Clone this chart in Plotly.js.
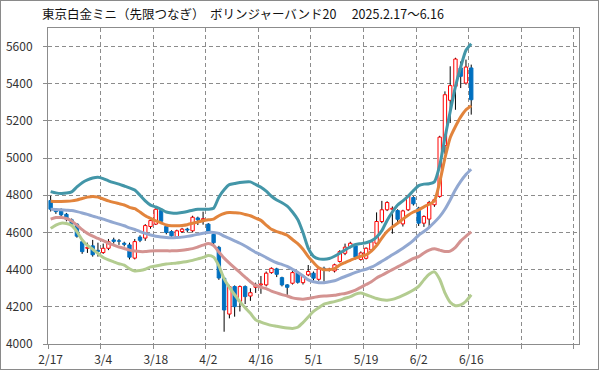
<!DOCTYPE html>
<html><head><meta charset="utf-8">
<script src="https://cdn.plot.ly/plotly-3.0.1.min.js"></script>
<style>
html,body{margin:0;padding:0;background:#fff;}
#wrap{position:relative;width:599px;height:370px;overflow:hidden;}
#chart{width:599px;height:370px;}
#frame{position:absolute;left:0;top:0;width:597px;height:368px;border:1px solid #8a8a8a;pointer-events:none;}
</style></head><body>
<div id="wrap"><div id="chart"></div><div id="frame"></div></div>
<script>
// trading days (category axis)
const dates = ['2/17','2/18','2/19','2/20','2/21','2/25','2/26','2/27','2/28','3/3',
 '3/4','3/5','3/6','3/7','3/10','3/11','3/12','3/13','3/14','3/17',
 '3/18','3/19','3/21','3/24','3/25','3/26','3/27','3/28','3/31','4/1',
 '4/2','4/3','4/4','4/7','4/8','4/9','4/10','4/11','4/14','4/15',
 '4/16','4/17','4/18','4/21','4/22','4/23','4/24','4/25','4/28','4/30',
 '5/1','5/2','5/7','5/8','5/9','5/12','5/13','5/14','5/15','5/16',
 '5/19','5/20','5/21','5/22','5/23','5/26','5/27','5/28','5/29','5/30',
 '6/2','6/3','6/4','6/5','6/6','6/9','6/10','6/11','6/12','6/13','6/16'];

const open = [4772,4722,4722,4698,4668,4645,4550,4515,4528,4504,
 4492,4515,4560,4555,4542,4533,4462,4575,4570,4632,
 4645,4718,4632,4605,4575,4605,4618,4609,4678,4668,
 4645,4590,4520,4354,4161,4309,4228,4309,4258,4305,
 4318,4318,4384,4404,4357,4318,4327,4384,4330,4372,
 4381,4348,4407,4400,4393,4444,4488,4524,4528,4455,
 4461,4506,4542,4659,4722,4725,4718,4646,4722,4788,
 4731,4650,4672,4749,4794,5067,5311,5386,5485,5404,5485];
const high = [4797,4730,4730,4705,4675,4650,4560,4545,4560,4545,
 4540,4565,4572,4565,4550,4545,4565,4585,4645,4672,
 4730,4725,4640,4612,4615,4625,4625,4690,4685,4712,
 4650,4595,4528,4360,4318,4315,4315,4315,4300,4330,
 4366,4390,4412,4410,4362,4322,4392,4390,4372,4425,
 4390,4410,4416,4410,4432,4505,4540,4550,4540,4498,
 4520,4560,4708,4770,4768,4740,4725,4722,4802,4795,
 4738,4692,4770,4782,5120,5359,5494,5540,5520,5530,5503];
const low = [4713,4700,4688,4660,4635,4572,4485,4490,4470,4470,
 4485,4505,4540,4533,4525,4455,4455,4548,4555,4620,
 4640,4650,4590,4570,4568,4598,4600,4600,4640,4642,
 4598,4538,4345,4066,4138,4147,4175,4215,4232,4275,
 4270,4310,4378,4360,4310,4264,4320,4325,4320,4365,
 4340,4340,4335,4390,4385,4438,4478,4515,4455,4448,
 4455,4498,4535,4650,4715,4593,4655,4632,4715,4745,
 4635,4630,4625,4738,4787,5023,5189,5260,5377,5395,5234];
const close = [4725,4712,4695,4672,4645,4580,4497,4520,4480,4498,
 4515,4550,4552,4553,4536,4467,4551,4558,4637,4664,
 4725,4660,4600,4582,4609,4618,4613,4682,4668,4674,
 4605,4545,4355,4183,4309,4201,4309,4255,4276,4318,
 4323,4381,4407,4375,4318,4305,4384,4332,4366,4390,
 4354,4404,4398,4403,4426,4497,4521,4542,4467,4490,
 4515,4550,4659,4722,4761,4730,4671,4716,4797,4754,
 4650,4686,4761,4776,5113,5341,5390,5533,5440,5490,5314];

// Bollinger band lines
const bandUpper2 = [4820,4813,4810,4812,4818,4845,4868,4883,4893,4897,
 4890,4878,4868,4860,4850,4840,4828,4800,4770,4747,
 4737,4725,4710,4705,4704,4708,4713,4720,4725,4725,
 4725,4730,4790,4830,4857,4863,4869,4872,4872,4858,
 4843,4822,4795,4775,4760,4742,4710,4670,4600,4515,
 4472,4458,4456,4460,4472,4488,4506,4522,4535,4540,
 4545,4555,4575,4610,4665,4710,4748,4770,4795,4825,
 4852,4860,4862,4872,4960,5110,5250,5385,5490,5580,5615];
const bandUpper1 = [4768,4767,4767,4768,4770,4775,4783,4790,4794,4790,
 4780,4770,4762,4755,4748,4735,4728,4710,4690,4676,
 4663,4652,4640,4636,4636,4638,4642,4650,4656,4663,
 4668,4672,4690,4702,4707,4706,4704,4697,4690,4677,
 4665,4640,4617,4605,4596,4585,4562,4540,4510,4470,
 4438,4410,4400,4400,4405,4425,4438,4450,4462,4472,
 4480,4500,4530,4570,4605,4630,4650,4672,4693,4710,
 4722,4738,4752,4770,4870,5000,5110,5170,5222,5260,5282];
const bandMid = [4725,4724,4722,4720,4718,4712,4705,4697,4688,4680,
 4672,4662,4653,4645,4636,4625,4616,4605,4595,4586,
 4580,4576,4573,4572,4573,4575,4579,4584,4590,4596,
 4600,4600,4595,4580,4568,4555,4542,4527,4510,4493,
 4480,4465,4450,4437,4428,4418,4402,4386,4366,4345,
 4335,4330,4330,4335,4340,4352,4363,4374,4385,4395,
 4402,4413,4428,4445,4462,4480,4497,4515,4535,4558,
 4585,4605,4628,4655,4685,4725,4775,4830,4875,4912,4940];
const bandLower1 = [4672,4680,4680,4675,4662,4640,4615,4595,4580,4568,
 4556,4542,4532,4522,4514,4505,4500,4497,4497,4500,
 4501,4501,4501,4501,4502,4504,4508,4513,4522,4532,
 4540,4530,4495,4462,4435,4410,4385,4360,4335,4315,
 4305,4298,4285,4275,4266,4258,4248,4243,4241,4245,
 4250,4256,4258,4259,4262,4268,4272,4280,4290,4305,
 4320,4335,4355,4370,4385,4400,4415,4430,4445,4460,
 4470,4490,4505,4512,4505,4498,4500,4520,4555,4580,4603];
const bandLower2 = [4622,4640,4650,4648,4638,4605,4560,4530,4510,4487,
 4465,4452,4442,4432,4424,4405,4393,4395,4402,4415,
 4420,4425,4430,4433,4436,4440,4444,4450,4458,4466,
 4476,4467,4420,4350,4305,4265,4228,4195,4165,4130,
 4118,4108,4100,4095,4090,4086,4084,4090,4115,4145,
 4175,4195,4215,4222,4228,4236,4246,4255,4268,4274,
 4265,4255,4245,4238,4236,4240,4250,4262,4275,4290,
 4310,4345,4375,4388,4348,4275,4225,4206,4210,4230,4265];

const yTicks = [4000,4200,4400,4600,4800,5000,5200,5400,5600];
const labelStep = 10;
const totalSlots = 101;

const idx = dates.map((d,i)=>i);
const tickPos = idx.filter(i=>i%labelStep===0);
const tickText = tickPos.map(i=>dates[i]);
const gridPos = [];
for(let k=0;k<=totalSlots-1;k+=labelStep) gridPos.push(k-0.5);

const bodyBase = open.map((o,i)=>Math.min(o,close[i]));
const bodyH = open.map((o,i)=>Math.max(Math.abs(close[i]-o),2));
const up = open.map((o,i)=>close[i]>=o);

const lineW = 3;
const traces = [
 {type:'ohlc', x:idx, open:open, high:high, low:low, close:close, xaxis:'x', yaxis:'y',
  tickwidth:0, increasing:{line:{color:'#000000',width:1}}, decreasing:{line:{color:'#000000',width:1}},
  hoverinfo:'skip', showlegend:false},
 {type:'bar', x:idx, base:bodyBase, y:bodyH, width:0.64, xaxis:'x2', yaxis:'y2',
  marker:{color:up.map(u=>u?'#ffffff':'#0070C0'), line:{color:up.map(u=>u?'#FF0000':'#0070C0'), width:1}},
  hoverinfo:'skip', showlegend:false},
 {type:'scatter', mode:'lines', x:idx, y:bandLower2, xaxis:'x2', yaxis:'y2', line:{color:'#B3CC90', width:lineW, shape:'spline', smoothing:0.6}, showlegend:false, hoverinfo:'skip'},
 {type:'scatter', mode:'lines', x:idx, y:bandLower1, xaxis:'x2', yaxis:'y2', line:{color:'#D49391', width:lineW, shape:'spline', smoothing:0.6}, showlegend:false, hoverinfo:'skip'},
 {type:'scatter', mode:'lines', x:idx, y:bandMid, xaxis:'x2', yaxis:'y2', line:{color:'#92A8D1', width:lineW, shape:'spline', smoothing:0.6}, showlegend:false, hoverinfo:'skip'},
 {type:'scatter', mode:'lines', x:idx, y:bandUpper1, xaxis:'x2', yaxis:'y2', line:{color:'#E2843C', width:lineW, shape:'spline', smoothing:0.6}, showlegend:false, hoverinfo:'skip'},
 {type:'scatter', mode:'lines', x:idx, y:bandUpper2, xaxis:'x2', yaxis:'y2', line:{color:'#4396A8', width:lineW, shape:'spline', smoothing:0.6}, showlegend:false, hoverinfo:'skip'}
];

const gridC = '#8c8c8c';
const tickFont = {family:'"Noto Sans CJK JP", "Noto Sans", sans-serif', size:12, color:'#333333'};
const xr = [-0.5, totalSlots-0.5];
const yr = [4000, 5700];
const layout = {
 width:599, height:370,
 margin:{l:48, r:20, t:28, b:26, pad:0},
 paper_bgcolor:'#ffffff', plot_bgcolor:'#ffffff',
 showlegend:false,
 title:{text:'東京白金ミニ（先限つなぎ）  ボリンジャーバンド20　 2025.2.17～6.16',
   font:{family:'"Noto Sans CJK JP", sans-serif', size:12.5, color:'#111111'},
   x:42/599, xref:'container', xanchor:'left', y:1-15/370, yref:'container', yanchor:'middle'},
 xaxis:{range:xr, tickmode:'array', tickvals:gridPos, showticklabels:false,
   rangeslider:{visible:false},
   showgrid:true, gridcolor:gridC, griddash:'4px,3px', gridwidth:1,
   ticks:'outside', ticklen:4, tickcolor:gridC,
   showline:true, linecolor:gridC, linewidth:1, mirror:true, zeroline:false, fixedrange:true},
 xaxis2:{overlaying:'x', anchor:'y2', range:xr, tickmode:'array', tickvals:tickPos, ticktext:tickText,
   showgrid:false, showline:false, zeroline:false, ticks:'', ticklabelstandoff:7, tickfont:tickFont, fixedrange:true},
 yaxis:{range:yr, tickmode:'array', tickvals:yTicks, ticktext:yTicks.map(String),
   showgrid:true, gridcolor:gridC, griddash:'4px,3px', gridwidth:1,
   ticks:'outside', ticklen:4, tickcolor:gridC, ticklabelstandoff:8, tickfont:tickFont,
   showline:true, linecolor:gridC, linewidth:1, mirror:true, zeroline:false, fixedrange:true},
 yaxis2:{overlaying:'y', anchor:'x2', range:yr, visible:false, fixedrange:true}
};
Plotly.newPlot('chart', traces, layout, {staticPlot:true, displayModeBar:false});
</script>
</body></html>
